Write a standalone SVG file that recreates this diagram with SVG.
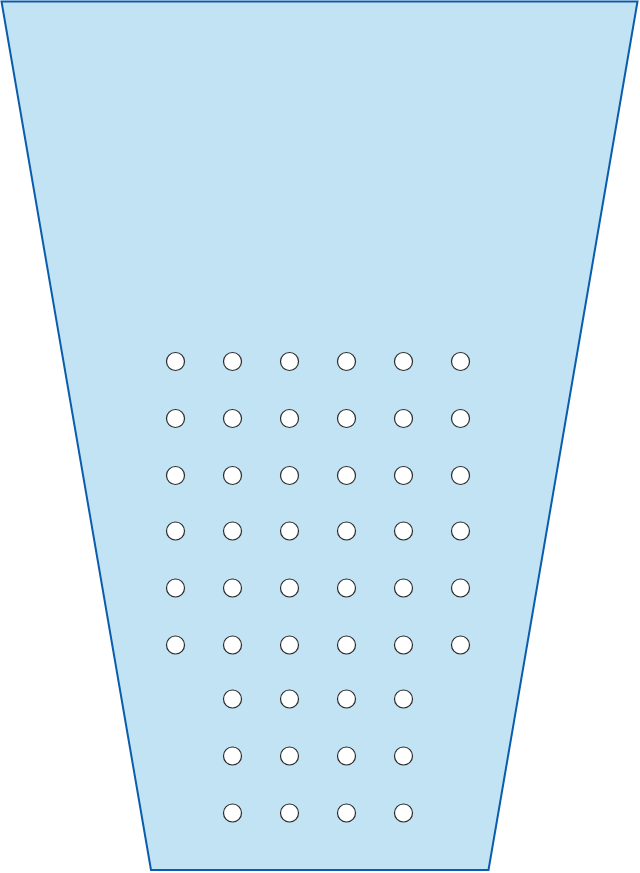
<svg xmlns="http://www.w3.org/2000/svg" width="640" height="873" viewBox="0 0 640 873">
<style>
.body{fill:#C2E3F4;stroke:#0A5CAC;stroke-width:2;stroke-linejoin:miter}
.h{fill:#FFFFFF;stroke:#2B2B2B;stroke-width:1.2}
</style>
<rect width="640" height="873" fill="#FFFFFF"/>
<g id="body">
<polygon class="body" points="1.5,1.5 637.5,1.5 488.5,870 151,870"/>
</g>
<g id="holes">
<g id="row1"><circle class="h" cx="175.5" cy="361.5" r="9"/><circle class="h" cx="232.5" cy="361.5" r="9"/><circle class="h" cx="289.5" cy="361.5" r="9"/><circle class="h" cx="346.5" cy="361.5" r="9"/><circle class="h" cx="403.5" cy="361.5" r="9"/><circle class="h" cx="460.5" cy="361.5" r="9"/></g>
<g id="row2"><circle class="h" cx="175.5" cy="418.5" r="9"/><circle class="h" cx="232.5" cy="418.5" r="9"/><circle class="h" cx="289.5" cy="418.5" r="9"/><circle class="h" cx="346.5" cy="418.5" r="9"/><circle class="h" cx="403.5" cy="418.5" r="9"/><circle class="h" cx="460.5" cy="418.5" r="9"/></g>
<g id="row3"><circle class="h" cx="175.5" cy="475.5" r="9"/><circle class="h" cx="232.5" cy="475.5" r="9"/><circle class="h" cx="289.5" cy="475.5" r="9"/><circle class="h" cx="346.5" cy="475.5" r="9"/><circle class="h" cx="403.5" cy="475.5" r="9"/><circle class="h" cx="460.5" cy="475.5" r="9"/></g>
<g id="row4"><circle class="h" cx="175.5" cy="531" r="9"/><circle class="h" cx="232.5" cy="531" r="9"/><circle class="h" cx="289.5" cy="531" r="9"/><circle class="h" cx="346.5" cy="531" r="9"/><circle class="h" cx="403.5" cy="531" r="9"/><circle class="h" cx="460.5" cy="531" r="9"/></g>
<g id="row5"><circle class="h" cx="175.5" cy="588" r="9"/><circle class="h" cx="232.5" cy="588" r="9"/><circle class="h" cx="289.5" cy="588" r="9"/><circle class="h" cx="346.5" cy="588" r="9"/><circle class="h" cx="403.5" cy="588" r="9"/><circle class="h" cx="460.5" cy="588" r="9"/></g>
<g id="row6"><circle class="h" cx="175.5" cy="645" r="9"/><circle class="h" cx="232.5" cy="645" r="9"/><circle class="h" cx="289.5" cy="645" r="9"/><circle class="h" cx="346.5" cy="645" r="9"/><circle class="h" cx="403.5" cy="645" r="9"/><circle class="h" cx="460.5" cy="645" r="9"/></g>
<g id="row7"><circle class="h" cx="232.5" cy="699" r="9"/><circle class="h" cx="289.5" cy="699" r="9"/><circle class="h" cx="346.5" cy="699" r="9"/><circle class="h" cx="403.5" cy="699" r="9"/></g>
<g id="row8"><circle class="h" cx="232.5" cy="756" r="9"/><circle class="h" cx="289.5" cy="756" r="9"/><circle class="h" cx="346.5" cy="756" r="9"/><circle class="h" cx="403.5" cy="756" r="9"/></g>
<g id="row9"><circle class="h" cx="232.5" cy="813" r="9"/><circle class="h" cx="289.5" cy="813" r="9"/><circle class="h" cx="346.5" cy="813" r="9"/><circle class="h" cx="403.5" cy="813" r="9"/></g>
</g>
</svg>
